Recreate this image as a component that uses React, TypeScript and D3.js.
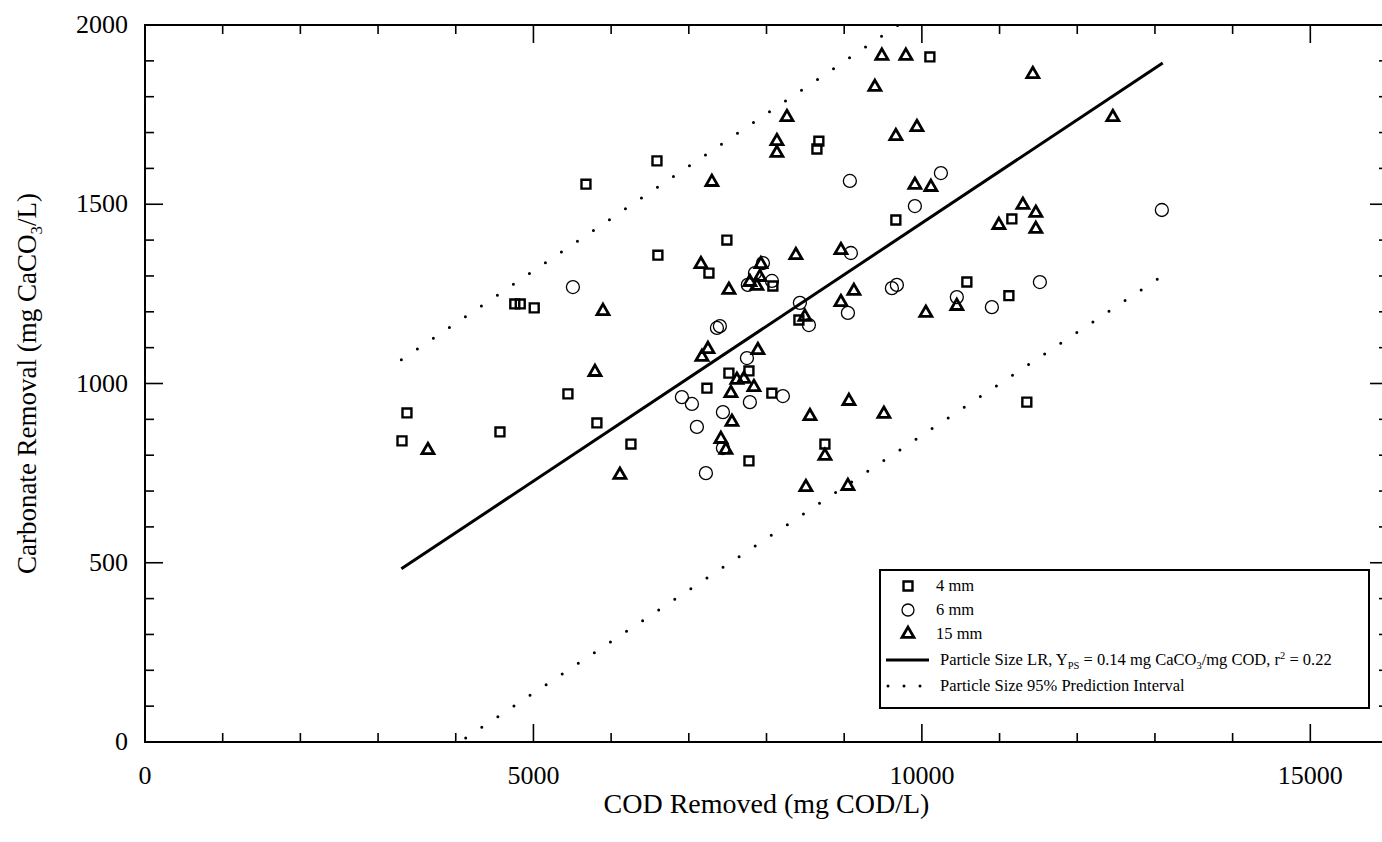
import React, { useRef, useEffect } from "react";
import * as d3 from "d3";

// COD removed (mg COD/L), carbonate removal (mg CaCO3/L)
const mm4 = [
  [3308, 840], [3372, 918], [4569, 865], [4760, 1222], [4830, 1222], [5010, 1211],
  [5444, 971], [5676, 1556], [5817, 890], [6255, 831], [6590, 1621], [6602, 1358],
  [7233, 987], [7259, 1308], [7490, 1400], [7516, 1029], [7774, 1035], [7774, 784],
  [8069, 973], [8082, 1272], [8417, 1177], [8649, 1654], [8674, 1676], [8752, 831],
  [9665, 1456], [10103, 1911], [10579, 1283], [11120, 1245], [11158, 1459], [11351, 948],
];

const mm6 = [
  [5508, 1269], [6911, 962], [7040, 943], [7104, 879], [7220, 750], [7362, 1155],
  [7400, 1160], [7439, 920], [7439, 820], [7748, 1071], [7760, 1275], [7786, 948],
  [7851, 1308], [7954, 1336], [8070, 1286], [8211, 965], [8430, 1225], [8546, 1163],
  [9048, 1197], [9073, 1565], [9086, 1364], [9614, 1266], [9678, 1275], [9910, 1495],
  [10245, 1587], [10450, 1241], [10901, 1213], [11519, 1283], [13089, 1484],
];

const mm15 = [
  [3642, 814], [5792, 1032], [5895, 1202], [6113, 745], [7156, 1333], [7169, 1074],
  [7246, 1096], [7297, 1562], [7413, 845], [7477, 815], [7516, 1261], [7542, 973],
  [7555, 893], [7619, 1010], [7709, 1013], [7786, 1283], [7838, 990], [7876, 1272],
  [7889, 1093], [7915, 1297], [7928, 1333], [8134, 1643], [8134, 1676], [8263, 1743],
  [8378, 1358], [8494, 1186], [8507, 711], [8559, 909], [8752, 798], [8958, 1372],
  [8958, 1227], [9048, 714], [9061, 951], [9125, 1258], [9395, 1827], [9485, 1914],
  [9511, 915], [9665, 1690], [9794, 1914], [9910, 1554], [9936, 1715], [10051, 1197],
  [10116, 1548], [10450, 1216], [10991, 1442], [11300, 1498], [11428, 1863], [11467, 1476],
  [11467, 1431], [12458, 1743],
];

// regression line and 95% prediction interval, end points
const fitLine = [[3300, 483], [13100, 1894]];
const piUpper = [[3300, 1066], [13100, 2497]];
const piLower = [[3300, -108], [13100, 1301]];

const xMajor = [0, 5000, 10000, 15000];
const yMajor = [0, 500, 1000, 1500, 2000];

export default function App() {
  const ref = useRef(null);

  useEffect(() => {
    const svg = d3.select(ref.current);
    svg.selectAll("*").remove();

    const font = "Liberation Serif, Times New Roman, Times, serif";
    const left = 145, right = 1388, top = 25, bottom = 742;

    const x = d3.scaleLinear().domain([0, 16000]).range([left, right]);
    const y = d3.scaleLinear().domain([0, 2000]).range([bottom, top]);

    svg.append("defs").append("clipPath").attr("id", "plotclip")
      .append("rect")
      .attr("x", left).attr("y", top)
      .attr("width", right - left).attr("height", bottom - top);

    // ticks on all four sides, pointing in
    const tk = svg.append("g").attr("stroke", "#000").attr("stroke-width", 1.6);
    d3.range(0, 16001, 1000).forEach(v => {
      const len = v % 5000 === 0 ? 18 : 9;
      tk.append("line").attr("x1", x(v)).attr("x2", x(v)).attr("y1", bottom).attr("y2", bottom - len);
      tk.append("line").attr("x1", x(v)).attr("x2", x(v)).attr("y1", top).attr("y2", top + len);
    });
    d3.range(0, 2001, 100).forEach(v => {
      const len = v % 500 === 0 ? 18 : 9;
      tk.append("line").attr("y1", y(v)).attr("y2", y(v)).attr("x1", left).attr("x2", left + len);
      tk.append("line").attr("y1", y(v)).attr("y2", y(v)).attr("x1", right).attr("x2", right - len);
    });

    svg.append("rect")
      .attr("x", left).attr("y", top)
      .attr("width", right - left).attr("height", bottom - top)
      .attr("fill", "none").attr("stroke", "#000").attr("stroke-width", 2);

    // tick labels
    svg.append("g").selectAll("text").data(xMajor).join("text")
      .attr("x", d => x(d)).attr("y", 784)
      .attr("text-anchor", "middle")
      .style("font-family", font).attr("font-size", 26)
      .text(d => d);
    svg.append("g").selectAll("text").data(yMajor).join("text")
      .attr("x", 128).attr("y", d => y(d) + 8)
      .attr("text-anchor", "end")
      .style("font-family", font).attr("font-size", 26)
      .text(d => d);

    // axis titles
    svg.append("text")
      .attr("x", (left + right) / 2).attr("y", 813)
      .attr("text-anchor", "middle")
      .style("font-family", font).attr("font-size", 28)
      .text("COD Removed (mg COD/L)");

    const yt = svg.append("text")
      .attr("transform", `translate(36,${(top + bottom) / 2}) rotate(-90)`)
      .attr("text-anchor", "middle")
      .style("font-family", font).attr("font-size", 27);
    yt.append("tspan").text("Carbonate Removal (mg CaCO");
    yt.append("tspan").attr("font-size", 17).attr("dy", 6).text("3");
    yt.append("tspan").attr("dy", -6).text("/L)");

    // lines
    const line = d3.line().x(d => x(d[0])).y(d => y(d[1]));
    const lg = svg.append("g").attr("clip-path", "url(#plotclip)");
    lg.append("path").attr("d", line(fitLine))
      .attr("fill", "none").attr("stroke", "#000").attr("stroke-width", 3);
    [piUpper, piLower].forEach(p => {
      lg.append("path").attr("d", line(p))
        .attr("fill", "none").attr("stroke", "#000").attr("stroke-width", 3)
        .attr("stroke-linecap", "round").attr("stroke-dasharray", "0 19.3");
    });

    // markers
    const sq = d3.symbol().type(d3.symbolSquare).size(80);
    const tri = d3.symbol().type(d3.symbolTriangle).size(62);
    const mg = svg.append("g").attr("clip-path", "url(#plotclip)").attr("fill", "none").attr("stroke", "#000");

    mg.append("g").selectAll("circle").data(mm6).join("circle")
      .attr("cx", d => x(d[0])).attr("cy", d => y(d[1])).attr("r", 6.5)
      .attr("stroke-width", 1.3).attr("fill", "none");
    mg.append("g").selectAll("path").data(mm4).join("path")
      .attr("transform", d => `translate(${x(d[0])},${y(d[1])})`)
      .attr("d", sq()).attr("stroke-width", 2.4);
    mg.append("g").selectAll("path").data(mm15).join("path")
      .attr("transform", d => `translate(${x(d[0])},${y(d[1])})`)
      .attr("d", tri()).attr("stroke-width", 2.8).attr("stroke-linejoin", "miter");

    // legend
    const leg = svg.append("g");
    leg.append("rect")
      .attr("x", 880).attr("y", 570).attr("width", 489).attr("height", 138)
      .attr("fill", "#fff").attr("stroke", "#000").attr("stroke-width", 2);
    const rows = [586, 610, 634, 660, 686];
    const symX = 908, txtX = 936;
    leg.append("path").attr("transform", `translate(${symX},${rows[0]})`).attr("d", sq())
      .attr("fill", "none").attr("stroke", "#000").attr("stroke-width", 2.4);
    leg.append("circle").attr("cx", symX).attr("cy", rows[1]).attr("r", 6)
      .attr("fill", "none").attr("stroke", "#000").attr("stroke-width", 1.3);
    leg.append("path").attr("transform", `translate(${symX},${rows[2]})`).attr("d", tri())
      .attr("fill", "none").attr("stroke", "#000").attr("stroke-width", 2.8);
    leg.append("line").attr("x1", 886).attr("x2", 929).attr("y1", rows[3]).attr("y2", rows[3])
      .attr("stroke", "#000").attr("stroke-width", 3);
    leg.append("line").attr("x1", 888).attr("x2", 930).attr("y1", rows[4]).attr("y2", rows[4])
      .attr("stroke", "#000").attr("stroke-width", 3)
      .attr("stroke-linecap", "round").attr("stroke-dasharray", "0 16");

    const lt = (i) => leg.append("text").attr("x", i >= 3 ? 940 : txtX).attr("y", rows[i] + 5)
      .style("font-family", font).attr("font-size", 16.5);
    lt(0).text("4 mm");
    lt(1).text("6 mm");
    lt(2).text("15 mm");
    const t3 = lt(3);
    t3.append("tspan").text("Particle Size LR, Y");
    t3.append("tspan").attr("font-size", 10.5).attr("dy", 4).text("PS");
    t3.append("tspan").attr("dy", -4).text(" = 0.14 mg CaCO");
    t3.append("tspan").attr("font-size", 10.5).attr("dy", 4).text("3");
    t3.append("tspan").attr("dy", -4).text("/mg COD, r");
    t3.append("tspan").attr("font-size", 10.5).attr("dy", -6).text("2");
    t3.append("tspan").attr("dy", 6).text(" = 0.22");
    lt(4).text("Particle Size 95% Prediction Interval");
  }, []);

  return (
    <svg ref={ref} width={1382} height={842}
      style={{ position: "absolute", left: 0, top: 0, background: "#fff" }} />
  );
}
